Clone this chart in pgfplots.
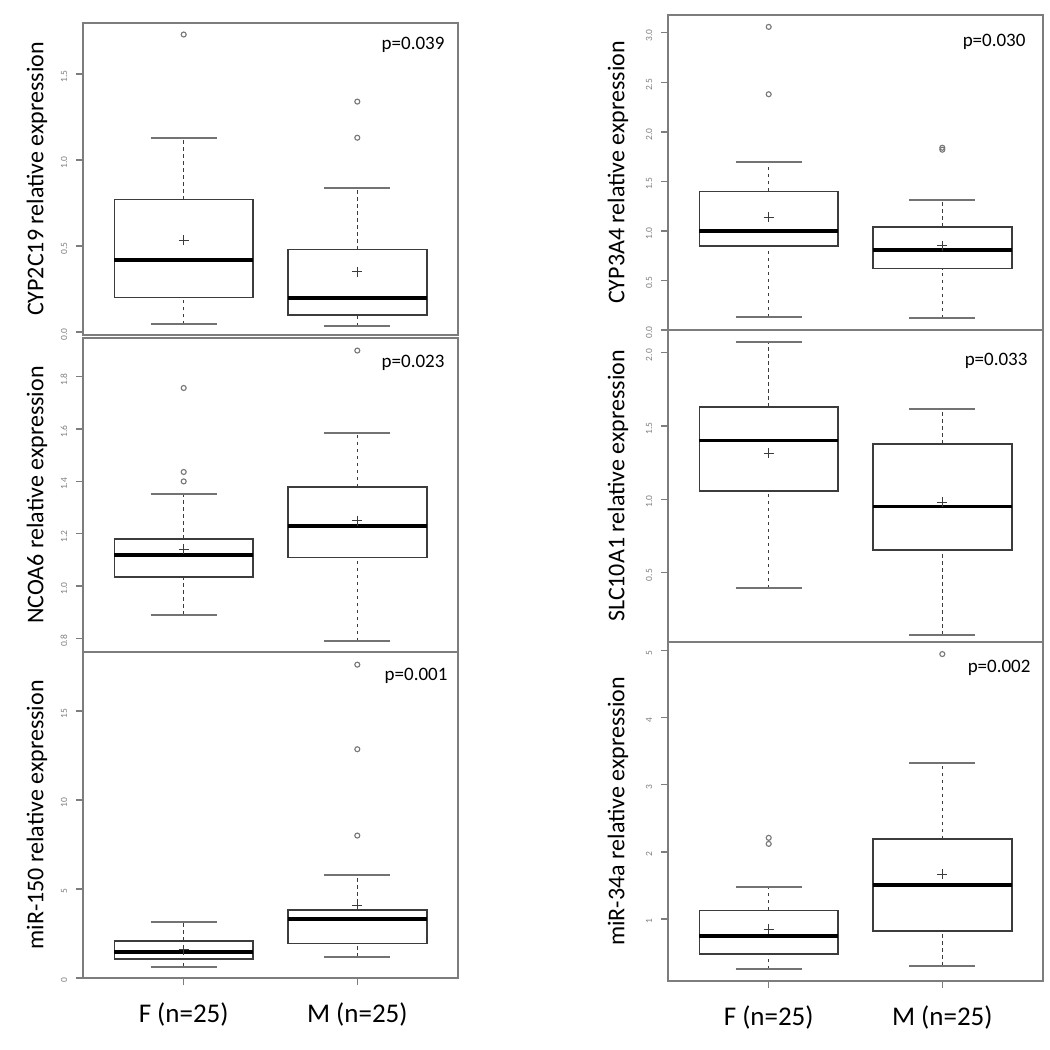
\documentclass[border=0pt]{standalone}
\usepackage{fontspec}
\setmainfont{Carlito}
\usepackage{pgfplots}
\pgfplotsset{compat=1.18}
\usepgfplotslibrary{statistics}
\definecolor{framegray}{RGB}{125,125,125}
\definecolor{boxgray}{RGB}{60,60,60}
\definecolor{capgray}{RGB}{115,115,115}
\definecolor{ptgray}{RGB}{120,120,120}
\tikzset{ptext/.style={anchor=east, inner sep=0pt, font=\fontsize{7.6}{9}\selectfont}}
\pgfplotsset{
  panel/.style={
    scale only axis,
    width=150pt,
    xmin=0.42, xmax=2.58,
    axis line style={framegray, line width=0.7pt},
    tick align=outside,
    ytick pos=left,
    xtick pos=bottom,
    major tick length=2.8pt,
    tick style={framegray, line width=0.5pt},
    yticklabel style={font=\fontsize{3.8}{4}\selectfont, text=gray, rotate=90, anchor=south, xshift=-1pt},
    xticklabel style={font=\fontsize{10.8}{12}\selectfont, anchor=north, yshift=-3.5pt},
    /pgf/number format/assume math mode=true,
    every axis y label/.style={at={(axis description cs:0,0.5)}, rotate=90, anchor=center, font=\fontsize{9.6}{11}\selectfont},
    clip=false,
    xtick=\empty,
    boxplot/draw direction=y,
    boxplot/box extend=0.8,
    boxplot/whisker extend=0.38,
    boxplot/every box/.style={draw=boxgray, line width=0.6pt},
    boxplot/every median/.style={draw=black, line width=1.5pt},
    boxplot/every average/.style={/tikz/mark=+, /tikz/mark size=2pt, draw=black, line width=0.35pt},
    boxplot/draw/lower whisker/.code={%
      \draw[boxgray, line width=0.5pt, dash pattern=on 1.4pt off 1.4pt]
        (boxplot box cs:\pgfplotsboxplotvalue{lower whisker},0.5) -- (boxplot box cs:\pgfplotsboxplotvalue{lower quartile},0.5);
      \draw[capgray, line width=0.8pt]
        (boxplot whisker cs:\pgfplotsboxplotvalue{lower whisker},0) -- (boxplot whisker cs:\pgfplotsboxplotvalue{lower whisker},1);
    },
    boxplot/draw/upper whisker/.code={%
      \draw[boxgray, line width=0.5pt, dash pattern=on 1.4pt off 1.4pt]
        (boxplot box cs:\pgfplotsboxplotvalue{upper quartile},0.5) -- (boxplot box cs:\pgfplotsboxplotvalue{upper whisker},0.5);
      \draw[capgray, line width=0.8pt]
        (boxplot whisker cs:\pgfplotsboxplotvalue{upper whisker},0) -- (boxplot whisker cs:\pgfplotsboxplotvalue{upper whisker},1);
    },
  },
  bp/.style={draw=boxgray, mark=o, mark options={draw=ptgray, mark size=1pt, line width=0.45pt, solid}},
  bottompanel/.style={xtick={1,2}, xticklabels={F (n=25), M (n=25)}},
}
\begin{document}
\begin{tikzpicture}
\path[use as bounding box] (0,0) rectangle (420pt,-420pt);

% ---------- Left top: CYP2C19
\begin{axis}[panel, at={(33.2pt,-134pt)}, anchor=south west, height=124.8pt,
  ymin=-0.017, ymax=1.797, ytick={0,0.5,1,1.5},
  yticklabel style={/pgf/number format/fixed, /pgf/number format/fixed zerofill, /pgf/number format/precision=1},
  ylabel={CYP2C19 relative expression}, ylabel style={yshift=18.4pt}]
\addplot[bp, boxplot prepared={draw position=1, lower whisker=0.045, lower quartile=0.20, median=0.42, upper quartile=0.77, upper whisker=1.13, average=0.535}]
  table[row sep=\\, y index=0] {d\\ 1.73\\};
\addplot[bp, boxplot prepared={draw position=2, lower whisker=0.035, lower quartile=0.10, median=0.20, upper quartile=0.48, upper whisker=0.84, average=0.35}]
  table[row sep=\\, y index=0] {d\\ 1.34\\ 1.13\\};
\node[ptext] at (rel axis cs:1,1) [xshift=-5.2pt, yshift=-8.8pt] {p=0.039};
\end{axis}

% ---------- Right top: CYP3A4
\begin{axis}[panel, at={(267.2pt,-132pt)}, anchor=south west, height=126pt,
  ymin=0, ymax=3.18, ytick={0,0.5,1,1.5,2,2.5,3},
  yticklabel style={/pgf/number format/fixed, /pgf/number format/fixed zerofill, /pgf/number format/precision=1},
  ylabel={CYP3A4 relative expression}, ylabel style={yshift=20pt}]
\addplot[bp, boxplot prepared={draw position=1, lower whisker=0.13, lower quartile=0.85, median=1.0, upper quartile=1.40, upper whisker=1.70, average=1.14}]
  table[row sep=\\, y index=0] {d\\ 3.06\\ 2.38\\};
\addplot[bp, boxplot prepared={draw position=2, lower whisker=0.12, lower quartile=0.62, median=0.81, upper quartile=1.04, upper whisker=1.31, average=0.85}]
  table[row sep=\\, y index=0] {d\\ 1.84\\ 1.82\\};
\node[ptext] at (rel axis cs:1,1) [xshift=-6.8pt, yshift=-10.8pt] {p=0.030};
\end{axis}

% ---------- Left middle: NCOA6
\begin{axis}[panel, at={(33.2pt,-260.8pt)}, anchor=south west, height=125.6pt,
  ymin=0.748, ymax=1.948, ytick={0.8,1.0,1.2,1.4,1.6,1.8},
  yticklabel style={/pgf/number format/fixed, /pgf/number format/fixed zerofill, /pgf/number format/precision=1},
  ylabel={NCOA6 relative expression}, ylabel style={yshift=18.4pt}]
\addplot[bp, boxplot prepared={draw position=1, lower whisker=0.89, lower quartile=1.034, median=1.12, upper quartile=1.18, upper whisker=1.352, average=1.14}]
  table[row sep=\\, y index=0] {d\\ 1.757\\ 1.436\\ 1.40\\};
\addplot[bp, boxplot prepared={draw position=2, lower whisker=0.79, lower quartile=1.11, median=1.23, upper quartile=1.378, upper whisker=1.585, average=1.25}]
  table[row sep=\\, y index=0] {d\\ 1.90\\};
\node[ptext] at (rel axis cs:1,1) [xshift=-5.2pt, yshift=-10pt] {p=0.023};
\end{axis}

% ---------- Right middle: SLC10A1
\begin{axis}[panel, at={(267.2pt,-256.8pt)}, anchor=south west, height=124.8pt,
  ymin=0.027, ymax=2.154, ytick={0.5,1.0,1.5,2.0},
  yticklabel style={/pgf/number format/fixed, /pgf/number format/fixed zerofill, /pgf/number format/precision=1},
  ylabel={SLC10A1 relative expression}, ylabel style={yshift=20pt}]
\addplot[bp, boxplot prepared={draw position=1, lower whisker=0.395, lower quartile=1.057, median=1.40, upper quartile=1.63, upper whisker=2.07, average=1.315}]
  coordinates {};
\addplot[bp, boxplot prepared={draw position=2, lower whisker=0.075, lower quartile=0.654, median=0.95, upper quartile=1.377, upper whisker=1.615, average=0.98}]
  coordinates {};
\node[ptext] at (rel axis cs:1,1) [xshift=-6pt, yshift=-12.4pt] {p=0.033};
\end{axis}

% ---------- Left bottom: miR-150
\begin{axis}[panel, bottompanel, at={(33.2pt,-391.2pt)}, anchor=south west, height=130.4pt,
  ymin=0, ymax=18.31, ytick={0,5,10,15},
  ylabel={miR-150 relative expression}, ylabel style={yshift=18.4pt}]
\addplot[bp, boxplot prepared={draw position=1, lower whisker=0.62, lower quartile=1.07, median=1.46, upper quartile=2.08, upper whisker=3.15, average=1.6}]
  coordinates {};
\addplot[bp, boxplot prepared={draw position=2, lower whisker=1.2, lower quartile=1.95, median=3.33, upper quartile=3.82, upper whisker=5.8, average=4.05}]
  table[row sep=\\, y index=0] {d\\ 17.6\\ 12.85\\ 8.0\\};
\node[ptext] at (rel axis cs:1,1) [xshift=-4pt, yshift=-9.6pt] {p=0.001};
\end{axis}

% ---------- Right bottom: miR-34a
\begin{axis}[panel, bottompanel, at={(267.2pt,-392.4pt)}, anchor=south west, height=135.6pt,
  ymin=0.075, ymax=5.13, ytick={1,2,3,4,5},
  ylabel={miR-34a relative expression}, ylabel style={yshift=20pt}]
\addplot[bp, boxplot prepared={draw position=1, lower whisker=0.25, lower quartile=0.48, median=0.75, upper quartile=1.13, upper whisker=1.48, average=0.85}]
  table[row sep=\\, y index=0] {d\\ 2.21\\ 2.12\\};
\addplot[bp, boxplot prepared={draw position=2, lower whisker=0.30, lower quartile=0.82, median=1.51, upper quartile=2.19, upper whisker=3.33, average=1.67}]
  table[row sep=\\, y index=0] {d\\ 4.95\\};
\node[ptext] at (rel axis cs:1,1) [xshift=-4.8pt, yshift=-10.4pt] {p=0.002};
\end{axis}
\end{tikzpicture}
\end{document}
